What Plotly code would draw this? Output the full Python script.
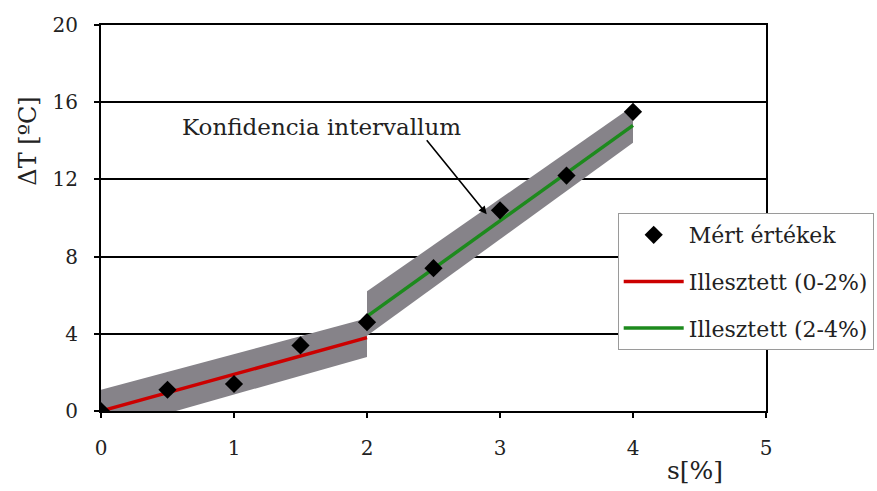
import plotly.graph_objects as go

# Measured values
s_meas = [0, 0.5, 1, 1.5, 2, 2.5, 3, 3.5, 4]
dT_meas = [0, 1.1, 1.4, 3.4, 4.6, 7.4, 10.4, 12.2, 15.5]

# Fitted line, 0-2 %
fit1_s = [0, 2]
fit1_T = [0, 3.8]
band1_lo = [-1.1, 2.8]
band1_hi = [1.1, 4.8]

# Fitted line, 2-4 %
fit2_s = [2, 4]
fit2_T = [4.9, 14.8]
band2_lo = [3.9, 13.9]
band2_hi = [6.2, 15.8]

x_ticks = [0, 1, 2, 3, 4, 5]
y_ticks = [0, 4, 8, 12, 16, 20]

SERIF = "DejaVu Serif, Liberation Serif, serif"
TXT = "#222"
BAND = "rgb(134,131,137)"
RED = "#cc0000"
GREEN = "#1d8a1d"

fig = go.Figure()

# confidence bands
for xs, lo, hi in [(fit1_s, band1_lo, band1_hi), (fit2_s, band2_lo, band2_hi)]:
    fig.add_trace(go.Scatter(
        x=list(xs) + list(xs[::-1]),
        y=list(lo) + list(hi[::-1]),
        fill="toself", fillcolor=BAND, mode="lines",
        line=dict(width=0, color=BAND), showlegend=False, hoverinfo="skip",
    ))

fig.add_trace(go.Scatter(
    x=fit1_s, y=fit1_T, mode="lines", name="Illesztett (0-2%)",
    line=dict(color=RED, width=3.5), legendgroup="b", legendrank=2,
))
fig.add_trace(go.Scatter(
    x=fit2_s, y=fit2_T, mode="lines", name="Illesztett (2-4%)",
    line=dict(color=GREEN, width=3.5), legendgroup="c", legendrank=3,
))
# markers drawn last so they sit on top of the fitted lines
fig.add_trace(go.Scatter(
    x=s_meas, y=dT_meas, mode="markers", name="Mért értékek",
    marker=dict(symbol="diamond", size=14, color="black"),
    legendgroup="a", legendrank=1,
))

fig.update_layout(
    width=877, height=491,
    margin=dict(l=101, r=111, t=25, b=80, autoexpand=False),
    paper_bgcolor="white", plot_bgcolor="white",
    font=dict(family=SERIF, size=21, color=TXT),
    legend=dict(
        x=0.777, y=0.513, xanchor="left", yanchor="top",
        bgcolor="white", bordercolor="#9a9a9a", borderwidth=1,
        font=dict(family=SERIF, size=22, color=TXT),
        tracegroupgap=15, traceorder="grouped", itemwidth=60,
    ),
    xaxis=dict(
        range=[0, 5], tickvals=x_ticks, ticks="outside", ticklen=5,
        tickwidth=2, tickcolor="black", showgrid=False, zeroline=False,
        showline=True, linecolor="black", linewidth=2, mirror=True,
        ticklabelstandoff=13, tickfont=dict(family=SERIF, size=20, color=TXT),
    ),
    yaxis=dict(
        range=[0, 20], tickvals=y_ticks, ticks="outside", ticklen=5,
        tickwidth=2, tickcolor="black", showgrid=True, gridcolor="black",
        gridwidth=2, zeroline=False, showline=True, linecolor="black",
        linewidth=2, mirror=True, ticklabelstandoff=12,
        tickfont=dict(family=SERIF, size=20, color=TXT),
    ),
    annotations=[
        dict(text="ΔT [ºC]", xref="paper", yref="paper", x=-0.11, y=0.70,
             xanchor="center", yanchor="middle", textangle=-90, showarrow=False,
             font=dict(family=SERIF, size=24, color=TXT)),
        dict(text="s[%]", xref="paper", yref="paper", x=0.893, y=-0.153,
             xanchor="center", yanchor="middle", showarrow=False,
             font=dict(family=SERIF, size=25, color=TXT)),
        dict(text="Konfidencia intervallum", xref="x", yref="y", x=1.66, y=14.7,
             xanchor="center", yanchor="middle", showarrow=False,
             font=dict(family=SERIF, size=23, color=TXT)),
        dict(text="", xref="x", yref="y", x=2.9, y=10.2,
             axref="x", ayref="y", ax=2.44, ay=14.1, showarrow=True,
             arrowhead=2, arrowsize=1, arrowwidth=1.6, arrowcolor="black"),
    ],
)

fig.write_html("out.html")
